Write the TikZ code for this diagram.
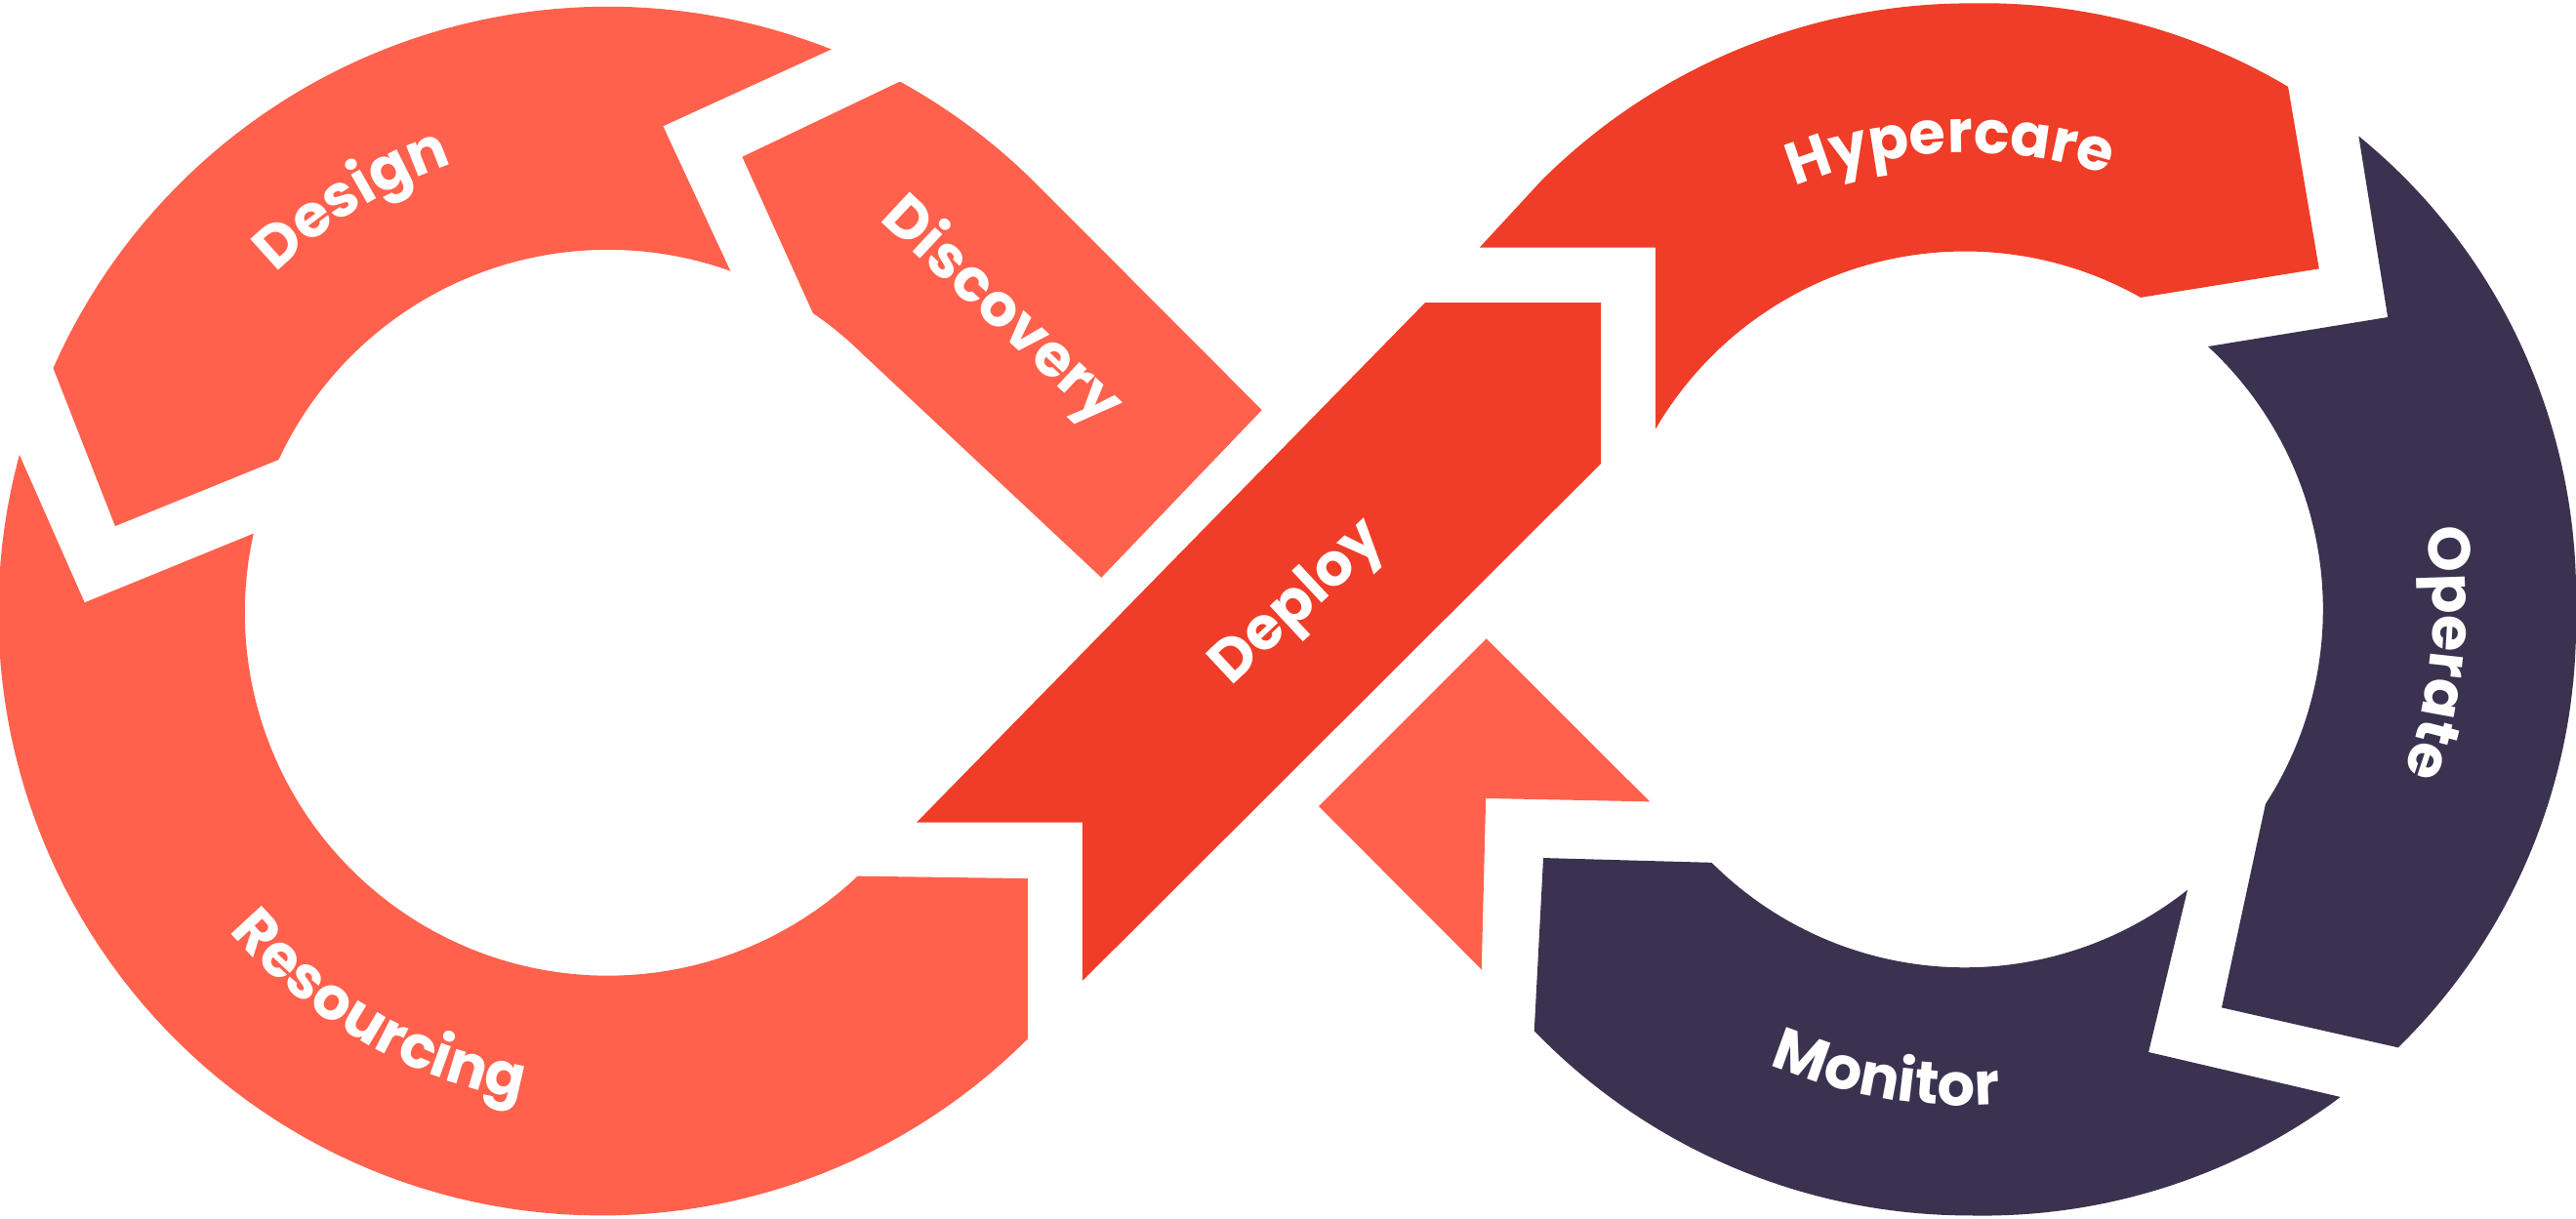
\documentclass[tikz,border=0pt]{standalone}
\usepackage{fontspec}
\setmainfont{Poppins}
\usetikzlibrary{decorations.text}
\definecolor{coral}{HTML}{FF614D}
\definecolor{redd}{HTML}{EF3D28}
\definecolor{navy}{HTML}{3B3250}
\newcommand{\lbl}{\bfseries\fontsize{36}{36}\selectfont}
\pgfmathdeclarefunction{rout}{1}{\pgfmathparse{369+4*abs(sin(2*#1))*(cos(#1)>0)}}
\tikzset{
  coralpiece/.style={fill=coral},
  redpiece/.style={fill=redd},
  navypiece/.style={fill=navy},
  arclabel/.style={decorate, decoration={text along path, text={|\lbl|#1}, text align=center, text color=white}},
  straightlabel/.style={text=white, font=\lbl, inner sep=0pt},
}
\begin{document}
\begin{tikzpicture}[x=1pt,y=-1pt]
\path[use as bounding box, fill=white] (0,0) rectangle (1568,741.6);
% Design
\path[coralpiece] (32.4,224.1)
  -- plot[variable=\q,domain=0:1,samples=60] ({370+369*cos(-156.2+87.9*\q)},{373+369*sin(-156.2+87.9*\q)})
  -- (403.6,76.8) -- (444.8,165.4)
  -- plot[variable=\q,domain=0:1,samples=50] ({370+221*cos(-70.2-84.9*\q)},{373+221*sin(-70.2-84.9*\q)})
  -- (70.1,320.3) -- cycle;
% Discovery
\path[coralpiece]
  plot[variable=\q,domain=0:1,samples=30] ({370+369*cos(-61.2+16.2*\q)},{373+369*sin(-61.2+16.2*\q)})
  -- (768.1,249.6) -- (670.4,351.6) -- (526.3,216.7)
  -- plot[variable=\q,domain=0:1,samples=20] ({370+221*cos(-45-10.6*\q)},{373+221*sin(-45-10.6*\q)})
  -- (451.8,95.5) -- cycle;
% Resourcing
\path[coralpiece] (11.8,276.8) -- (51.5,366.8) -- (154.3,324.8)
  -- plot[variable=\q,domain=0:1,samples=70] ({370+221*cos(192.6-146.2*\q)},{373+221*sin(192.6-146.2*\q)})
  -- (625.5,534.8) -- (625.5,632.5)
  -- plot[variable=\q,domain=0:1,samples=90] ({366+367*cos(45+150.2*\q)},{373+367*sin(45+150.2*\q)})
  -- cycle;
% Deploy
\path[redpiece] (557.9,500.7) -- (867.5,184.2) -- (974.5,184.2) -- (974.5,282.2) -- (658.9,597.1) -- (658.9,500.7) -- cycle;
% small arrow
\path[coralpiece] (904.8,388.8) -- (1004.2,488.0) -- (904.4,486.0) -- (901.8,590.2) -- (802.7,490.8) -- cycle;
% Hypercare
\path[redpiece] (1007.7,261.1) -- (1007.7,150.7) -- (900.6,150.7) -- (938.1,110.1)
  -- plot[variable=\q,domain=0:1,samples=70] ({1199+rout(-135+76.4*\q)*cos(-135+76.4*\q)},{371+rout(-135+76.4*\q)*sin(-135+76.4*\q)})
  -- (1411.6,163.6) -- (1303.1,181.1)
  -- plot[variable=\q,domain=0:1,samples=60] ({1196+218*cos(-60.6-89.14*\q)},{371+218*sin(-60.6-89.14*\q)})
  -- cycle;
% Operate
\path[navypiece]
  plot[variable=\q,domain=0:1,samples=90] ({1199+rout(-50.6+96.3*\q)*cos(-50.6+96.3*\q)},{371+rout(-50.6+96.3*\q)*sin(-50.6+96.3*\q)})
  -- (1352.3,613.4) -- (1379,489.4)
  -- plot[variable=\q,domain=0:1,samples=60] ({1196+218*cos(32.9-80.2*\q)},{371+218*sin(32.9-80.2*\q)})
  -- (1453.4,193.1) -- cycle;
% Monitor
\path[navypiece] (939.4,522.3)
  -- plot[variable=\q,domain=0:1,samples=60] ({1196+218*cos(135-83.5*\q)},{371+218*sin(135-83.5*\q)})
  -- (1307.8,640.5) -- (1424.1,667.7)
  -- plot[variable=\q,domain=0:1,samples=70] ({1199+rout(52.8+83.2*\q)*cos(52.8+83.2*\q)},{371+rout(52.8+83.2*\q)*sin(52.8+83.2*\q)})
  -- cycle;
% curved labels
\path[arclabel=Design]
  plot[variable=\q,domain=0:1,samples=80] ({370+289*cos(-161.7+80*\q)},{373+289*sin(-161.7+80*\q)});
\path[arclabel=Resourcing]
  plot[variable=\q,domain=0:1,samples=80] ({370+301*cos(160-80*\q)},{373+301*sin(160-80*\q)});
\path[arclabel=Hypercare]
  plot[variable=\q,domain=0:1,samples=80] ({1197+278*cos(-132+80*\q)},{371+278*sin(-132+80*\q)});
\path[arclabel=Operate]
  plot[variable=\q,domain=0:1,samples=80] ({1197+284*cos(-34.7+80*\q)},{371+284*sin(-34.7+80*\q)});
\path[arclabel=Monitor]
  plot[variable=\q,domain=0:1,samples=80] ({1197+302*cos(139.7-80*\q)},{371+302*sin(139.7-80*\q)});
% straight labels
\node[straightlabel, rotate=-43] (discovery) at (609,190) {Discovery};
\node[straightlabel, rotate=43] (deploy) at (791,368) {Deploy};
\end{tikzpicture}
\end{document}
